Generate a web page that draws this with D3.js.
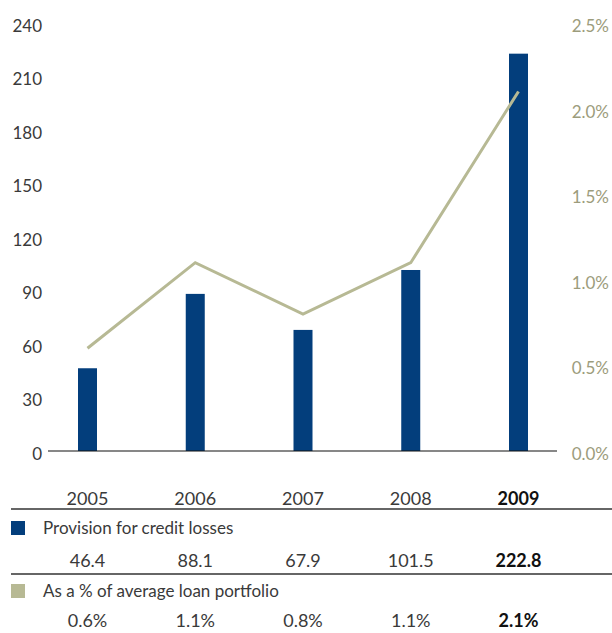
<!DOCTYPE html>
<html>
<head>
<meta charset="utf-8">
<script src="https://cdn.jsdelivr.net/npm/d3@7"></script>
<style>
  html, body { margin: 0; padding: 0; background: #fff; }
  svg { display: block; font-family: Lato, "Open Sans", sans-serif; }
</style>
</head>
<body>
<svg id="chart" width="612" height="633"></svg>
<script>
// Provision for credit losses (millions) and as a % of average loan portfolio
const years = ["2005", "2006", "2007", "2008", "2009"];
const provision = [46.4, 88.1, 67.9, 101.5, 222.8];
const pctOfLoans = [0.6, 1.1, 0.8, 1.1, 2.1];
const provisionLabels = ["46.4", "88.1", "67.9", "101.5", "222.8"];
const pctLabels = ["0.6%", "1.1%", "0.8%", "1.1%", "2.1%"];
const leftTicks = [0, 30, 60, 90, 120, 150, 180, 210, 240];
const rightTicks = [0, 0.5, 1.0, 1.5, 2.0, 2.5];
const seriesNames = ["Provision for credit losses", "As a % of average loan portfolio"];

const BAR = "#033e7c";
const LINE = "#b7b994";
const AXIS_TEXT = "#3a3a3a";
const RIGHT_TEXT = "#9c9c7c";
const highlightYear = "2009";

const svg = d3.select("#chart");

const x = d3.scalePoint().domain(years).range([87.5, 518.5]);
const yLeft = d3.scaleLinear().domain([0, 240]).range([451, 23]);
const yRight = d3.scaleLinear().domain([0, 2.5]).range([451, 23]);
const barW = 19;

// Left axis (amounts)
const gl = svg.append("g").attr("transform", "translate(42,0)")
  .call(d3.axisLeft(yLeft).tickValues(leftTicks).tickSize(0).tickPadding(0));
gl.select(".domain").remove();
gl.selectAll("text").attr("fill", AXIS_TEXT).style("font-size", "17px")
  .style("font-family", "Lato, sans-serif").attr("dy", "0.38em").attr("y", 2);

// Right axis (percentages)
const gr = svg.append("g").attr("transform", "translate(609,0)")
  .call(d3.axisRight(yRight).tickValues(rightTicks).tickSize(0).tickPadding(0)
    .tickFormat(d => d3.format(".1f")(d) + "%"));
gr.select(".domain").remove();
gr.selectAll("text").attr("fill", RIGHT_TEXT).attr("text-anchor", "end")
  .style("font-size", "17px").style("font-family", "Lato, sans-serif")
  .attr("dy", "0.38em").attr("y", 2);

// Bars
svg.append("g").selectAll("rect").data(years).join("rect")
  .attr("x", (d) => x(d) - barW / 2)
  .attr("width", barW)
  .attr("y", (d, i) => yLeft(provision[i]))
  .attr("height", (d, i) => yLeft(0) - yLeft(provision[i]))
  .attr("fill", BAR);

// Baseline
svg.append("line").attr("x1", 48).attr("x2", 557)
  .attr("y1", yLeft(0)).attr("y2", yLeft(0))
  .attr("stroke", "#111").attr("stroke-width", 1.2);

// Percentage line
svg.append("path")
  .datum(pctOfLoans)
  .attr("d", d3.line().x((d, i) => x(years[i])).y(d => yRight(d)))
  .attr("fill", "none").attr("stroke", LINE).attr("stroke-width", 3);

// Data table beneath the chart
const table = svg.append("g");
const rowText = (labels, cy) => {
  table.append("g").selectAll("text").data(labels).join("text")
    .attr("x", (d, i) => x(years[i]))
    .attr("y", cy)
    .attr("dy", "0.36em")
    .attr("text-anchor", "middle")
    .attr("fill", (d, i) => years[i] === highlightYear ? "#111" : AXIS_TEXT)
    .style("font-weight", (d, i) => years[i] === highlightYear ? 700 : 400)
    .style("font-size", "18px")
    .text(d => d);
};
const rule = (yy) => table.append("line").attr("x1", 11).attr("x2", 612)
  .attr("y1", yy).attr("y2", yy).attr("stroke", "#333").attr("stroke-width", 1.5);
const legendRow = (color, name, top) => {
  table.append("rect").attr("x", 11).attr("y", top).attr("width", 14).attr("height", 14).attr("fill", color);
  table.append("text").attr("x", 43).attr("y", top + 7).attr("dy", "0.36em")
    .attr("fill", AXIS_TEXT).style("font-size", "17px").text(name);
};

rowText(years, 499);
rule(509);
legendRow(BAR, seriesNames[0], 521);
rowText(provisionLabels, 561);
rule(574);
legendRow(LINE, seriesNames[1], 584);
rowText(pctLabels, 621);
</script>
</body>
</html>
